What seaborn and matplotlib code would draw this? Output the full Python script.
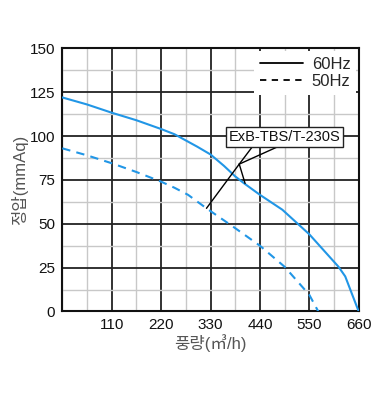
import matplotlib
matplotlib.use("Agg")
import matplotlib.pyplot as plt
from matplotlib.lines import Line2D
from matplotlib.ticker import MultipleLocator
import seaborn as sns
import pandas as pd

# ---- data ----
flow_60 = [0, 55, 110, 165, 220, 250, 275, 300, 330, 360, 385, 405, 440, 490, 550, 615, 630, 660]
pres_60 = [122, 118, 113.3, 109, 104, 101, 97.5, 94, 89.5, 83, 77, 73, 66.5, 58, 44, 25.5, 20, 0]
flow_50 = [0, 55, 110, 165, 220, 250, 280, 320, 385, 440, 495, 550, 570]
pres_50 = [93, 89, 84.5, 79.5, 74, 70.5, 66.5, 59, 47.5, 37.5, 25.5, 9.5, 0]
x_ticks = [110, 220, 330, 440, 550, 660]
y_ticks = [0, 25, 50, 75, 100, 125, 150]
series_names = ["60Hz", "50Hz"]
model_label = "ExB-TBS/T-230S"
x_label = "풍량(㎥/h)"
y_label = "정압(mmAq)"

df = pd.concat([
    pd.DataFrame({"flow": flow_60, "pres": pres_60, "freq": "60Hz"}),
    pd.DataFrame({"flow": flow_50, "pres": pres_50, "freq": "50Hz"}),
], ignore_index=True)

sns.set_style("white")
plt.rcParams["font.family"] = ["Liberation Sans", "Noto Sans CJK KR", "DejaVu Sans"]

fig = plt.figure(figsize=(3.81, 3.95), dpi=100)
ax = fig.add_axes([0.1635, 0.2114, 0.778, 0.6663])

blue = "#2196E6"
sns.lineplot(data=df, x="flow", y="pres", style="freq", color=blue,
             dashes={"60Hz": "", "50Hz": (4, 3)}, linewidth=1.5,
             sort=False, estimator=None, ax=ax, legend=False, zorder=3)

ax.set_xlim(0, 660)
ax.set_ylim(0, 150)
ax.xaxis.set_minor_locator(MultipleLocator(55))
ax.yaxis.set_minor_locator(MultipleLocator(12.5))
ax.set_xticks(x_ticks)
ax.set_xticklabels([str(v) for v in x_ticks])
ax.set_yticks(y_ticks)
ax.set_yticklabels([str(v) for v in y_ticks])
ax.grid(which="major", color="#222222", linewidth=1.3)
ax.grid(which="minor", color="#c8c8c8", linewidth=1.0)
ax.set_axisbelow(True)
ax.tick_params(which="both", length=0, labelsize=11, colors="#111111")
ax.tick_params(axis="x", pad=5)
ax.tick_params(axis="y", pad=5)
for s in ax.spines.values():
    s.set_color("#111111")
    s.set_linewidth(1.5)

ax.set_xlabel(x_label, fontsize=12, color="#555555", labelpad=1)
ax.set_ylabel(y_label, fontsize=12, color="#555555", labelpad=1)

handles = [Line2D([0], [0], color="black", lw=1.3, ls="-"),
           Line2D([0], [0], color="black", lw=1.3, ls=(0, (3.5, 3)))]
leg = ax.legend(handles, series_names, loc="upper right", bbox_to_anchor=(1.0, 1.0),
                frameon=True, facecolor="white", edgecolor="none", fancybox=False,
                framealpha=1, borderaxespad=0.15, handlelength=2.6, handletextpad=0.5,
                labelspacing=0.15, fontsize=12, borderpad=0.35)
leg.set_zorder(5)

# callout for model name
box_xy = (495, 99.6)
junction = (394, 84)
box_feet = [(425, 94.5), (485, 94.5)]
tips = [(407, 73), (321, 58.8)]
for fx, fy in box_feet:
    ax.plot([fx, junction[0]], [fy, junction[1]], color="black", lw=1.0, zorder=4)
for tx, ty in tips:
    ax.plot([junction[0], tx], [junction[1], ty], color="black", lw=1.0, zorder=4)
ax.text(box_xy[0], box_xy[1], model_label, ha="center", va="center", fontsize=10.5,
        color="#111111", zorder=6,
        bbox=dict(boxstyle="square,pad=0.2", facecolor="white", edgecolor="#222222", linewidth=1.0))

fig.savefig("out.png", dpi=100)
